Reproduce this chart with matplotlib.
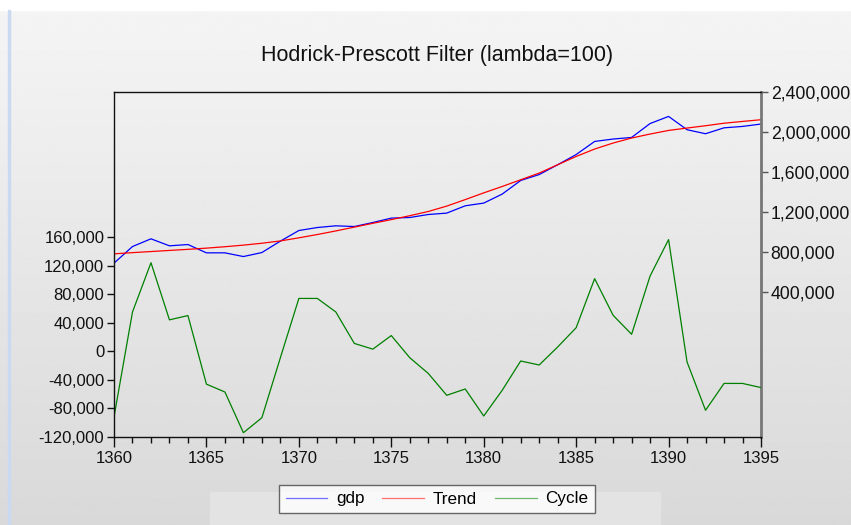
import numpy as np
import matplotlib
matplotlib.use('Agg')
import matplotlib.pyplot as plt
import matplotlib.patches as patches
from matplotlib.ticker import FuncFormatter, MultipleLocator

plt.rcParams['font.family'] = ['Liberation Sans', 'DejaVu Sans']

# Hodrick-Prescott decomposition, years 1360-1395
years = list(range(1360, 1396))
gdp = [690000, 856000, 933000, 863000, 876000, 793000, 793000, 756000, 796000, 910000,
       1016000, 1046000, 1063000, 1056000, 1096000, 1140000, 1146000, 1176000, 1190000, 1263000,
       1290000, 1380000, 1516000, 1575000, 1673000, 1775000, 1906000, 1930000, 1946000, 2085000,
       2156000, 2023000, 1983000, 2042000, 2056000, 2080000]
trend = [783000, 795000, 806000, 817000, 828000, 840000, 854000, 870000, 889000, 912000,
         943000, 976000, 1012000, 1050000, 1088000, 1125000, 1164000, 1206000, 1260000, 1325000,
         1392000, 1456000, 1523000, 1590000, 1673000, 1756000, 1830000, 1890000, 1940000, 1980000,
         2016000, 2040000, 2063000, 2088000, 2106000, 2123000]
cycle = [-92000, 55000, 124000, 44000, 50000, -46000, -57000, -114000, -93000, -9000,
         74000, 74000, 55000, 11000, 3000, 22000, -9000, -31000, -61600, -52800,
         -90600, -54600, -13600, -19200, 6000, 33000, 101700, 50400, 23800, 105400,
         156400, -15000, -82600, -45000, -45000, -50800]

left_ticks = [-120000, -80000, -40000, 0, 40000, 80000, 120000, 160000]
right_ticks = [400000, 800000, 1200000, 1600000, 2000000, 2400000]

fig = plt.figure(figsize=(8.51, 5.25), dpi=100)

# gradient grey background like the screenshot
bg = fig.add_axes([0, 0, 1, 1], zorder=-10)
grad = np.linspace(0.96, 0.85, 256).reshape(-1, 1)
bg.imshow(grad, cmap='gray', vmin=0, vmax=1, aspect='auto', extent=[0, 1, 0, 1])
bg.add_patch(patches.Rectangle((0, 1 - 10 / 525), 1, 10 / 525, color='white'))
bg.add_patch(patches.Rectangle((8 / 851, 0), 2 / 851, 1 - 10 / 525, color='#c9d9ef'))
bg.add_patch(patches.Rectangle((210 / 851, 0), 450 / 851, 33 / 525, color='#e3e3e3'))
bg.set_xlim(0, 1)
bg.set_ylim(0, 1)
bg.axis('off')

ax = fig.add_axes([114 / 851, 1 - 437 / 525, 647 / 851, 345 / 525])
ax2 = ax.twinx()
ax.set_zorder(ax2.get_zorder() + 1)
ax.patch.set_visible(False)
ax2.patch.set_facecolor('white')

l1, = ax2.plot(years, gdp, color='#0000ff', lw=0.9, label='gdp')
l2, = ax2.plot(years, trend, color='#ff0000', lw=0.9, label='Trend')
l3, = ax.plot(years, cycle, color='#008000', lw=0.9, label='Cycle')

ax.set_xlim(1360, 1395)
ax.set_ylim(-120000, 363000)
ax2.set_ylim(-1047000, 2400000)

fmt = FuncFormatter(lambda v, p: f'{int(v):,}')
ax.set_yticks(left_ticks)
ax.yaxis.set_major_formatter(fmt)
ax2.set_yticks(right_ticks)
ax2.yaxis.set_major_formatter(fmt)

ax.xaxis.set_major_locator(MultipleLocator(5))
ax.xaxis.set_minor_locator(MultipleLocator(1))
ax.tick_params(axis='x', which='major', length=7, width=1, labelsize=12, pad=3, colors='#111111')
ax.tick_params(axis='x', which='minor', length=4, width=1, colors='#111111')
ax.tick_params(axis='y', length=5, width=1, labelsize=12, pad=2, colors='#111111')
ax2.tick_params(axis='y', length=5, width=1, labelsize=12.7, pad=2, colors='#555555',
                labelcolor='#111111')

for s in ['left', 'bottom', 'top']:
    ax.spines[s].set_color('#111111')
    ax.spines[s].set_linewidth(1)
ax.spines['right'].set_visible(False)
ax2.spines['right'].set_color('#777777')
ax2.spines['right'].set_linewidth(2)
for s in ['left', 'bottom', 'top']:
    ax2.spines[s].set_visible(False)

fig.text(437 / 851, 1 - 55 / 525, 'Hodrick-Prescott Filter (lambda=100)',
         ha='center', va='center', fontsize=15.5, color='#111111')

leg = fig.legend([l1, l2, l3], ['gdp', 'Trend', 'Cycle'], loc='center',
                 bbox_to_anchor=(437 / 851, 1 - 499 / 525), ncol=3, fontsize=12.3,
                 frameon=True, fancybox=False, handlelength=2.45, columnspacing=1.05,
                 borderpad=0.4, handletextpad=0.5)
leg.get_frame().set_edgecolor('#444444')
leg.get_frame().set_linewidth(1)
for h in leg.get_lines():
    h.set_alpha(0.55)

fig.savefig('out.png', dpi=100)
